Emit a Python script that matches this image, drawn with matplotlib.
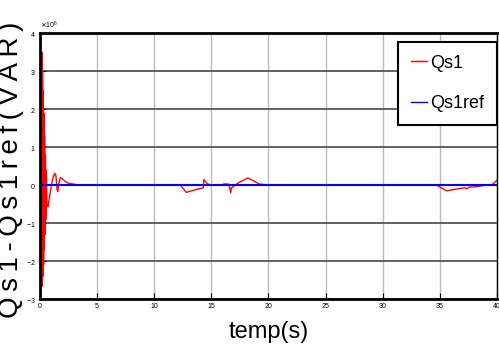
import matplotlib
matplotlib.use("Agg")
import matplotlib.pyplot as plt
from matplotlib.ticker import ScalarFormatter
from matplotlib.lines import Line2D

# Reactive power of the stator (VAR) versus time (s)
t = [0.0, 0.04, 0.08, 0.11, 0.14, 0.17, 0.20, 0.23, 0.26, 0.29, 0.32, 0.35,
     0.38, 0.41, 0.44, 0.48, 0.52, 0.56, 0.62, 0.70, 0.85, 1.00, 1.15, 1.30,
     1.40, 1.50, 1.56, 1.65, 1.80, 1.95, 2.20, 2.50, 2.90, 3.30, 3.80, 4.00,
     12.30, 12.80, 13.50, 14.30, 14.35, 14.60, 14.90, 16.00, 16.05, 16.50,
     16.55, 16.70, 16.75, 17.30, 18.20, 19.20, 20.10, 34.70, 35.60, 36.50,
     37.20, 37.30, 37.60, 38.20, 38.60, 39.10, 39.60, 40.00]
qs1 = [0.0, 1.4e6, -1.6e6, 2.6e6, -2.3e6, 3.5e6, -2.66e6, 3.0e6, -2.4e6,
       2.5e6, -2.1e6, 1.9e6, -1.7e6, 1.3e6, -1.3e6, 0.8e6, -0.9e6, 0.4e6,
       -0.5e6, -0.57e6, -0.3e6, 0.0, 0.2e6, 0.31e6, 0.25e6, -0.1e6, -0.17e6,
       0.05e6, 0.2e6, 0.17e6, 0.1e6, 0.05e6, 0.03e6, 0.01e6, 0.0, 0.0,
       0.0, -0.19e6, -0.13e6, -0.07e6, 0.15e6, 0.05e6, 0.0, 0.0, 0.03e6,
       0.03e6, 0.0, -0.2e6, -0.08e6, 0.05e6, 0.19e6, 0.03e6, 0.0, 0.0,
       -0.15e6, -0.1e6, -0.07e6, -0.1e6, -0.05e6, -0.04e6, -0.02e6, 0.0,
       0.02e6, 0.13e6]
t_ref = [0.0, 40.0]
qs1_ref = [0.0, 0.0]

x_ticks = [0, 5, 10, 15, 20, 25, 30, 35, 40]
y_ticks = [-3e6, -2e6, -1e6, 0, 1e6, 2e6, 3e6, 4e6]

sans = ["Liberation Sans", "DejaVu Sans"]
plt.rcParams["font.family"] = sans

fig = plt.figure(figsize=(4.99, 3.60), dpi=100)
ax = fig.add_axes([0.080, 0.169, 0.916, 0.739])

ax.plot(t, qs1, color="red", lw=1.0)
ax.plot(t_ref, qs1_ref, color="blue", lw=1.5)

ax.set_xlim(0, 40)
ax.set_ylim(-3e6, 4e6)
ax.set_xticks(x_ticks)
ax.set_yticks(y_ticks)

fmt = ScalarFormatter(useMathText=True)
fmt.set_powerlimits((0, 0))
ax.yaxis.set_major_formatter(fmt)
ax.yaxis.get_offset_text().set_fontsize(5)

ax.tick_params(direction="in", length=4, width=0.8, labelsize=5, pad=3)

ax.yaxis.grid(True, color="#555555", lw=1.3)
ax.xaxis.grid(True, color="#bbbbbb", lw=1.0)
for side in ("top", "left", "bottom"):
    ax.spines[side].set_linewidth(2.0)
ax.spines["right"].set_linewidth(1.0)

# letter-spaced axis title
ax.set_ylabel("\u2009".join("Qs1-Qs1ref(VAR)"), fontsize=20)
ax.yaxis.set_label_coords(-0.034, 0.485)
ax.set_xlabel("temp(s)", fontsize=17, labelpad=8)

handles = [Line2D([], [], color="red", lw=1.0),
           Line2D([], [], color="blue", lw=1.0)]
leg = ax.legend(handles, ["Qs1", "Qs1ref"], loc="upper right",
                bbox_to_anchor=(1.0, 0.966), prop={"size": 13},
                handlelength=0.9, handletextpad=0.2, labelspacing=1.3,
                borderpad=0.7, fancybox=False, framealpha=1.0,
                borderaxespad=0.0)
leg.get_frame().set_edgecolor("black")
leg.get_frame().set_linewidth(1.5)

fig.savefig("out.png", dpi=100)
